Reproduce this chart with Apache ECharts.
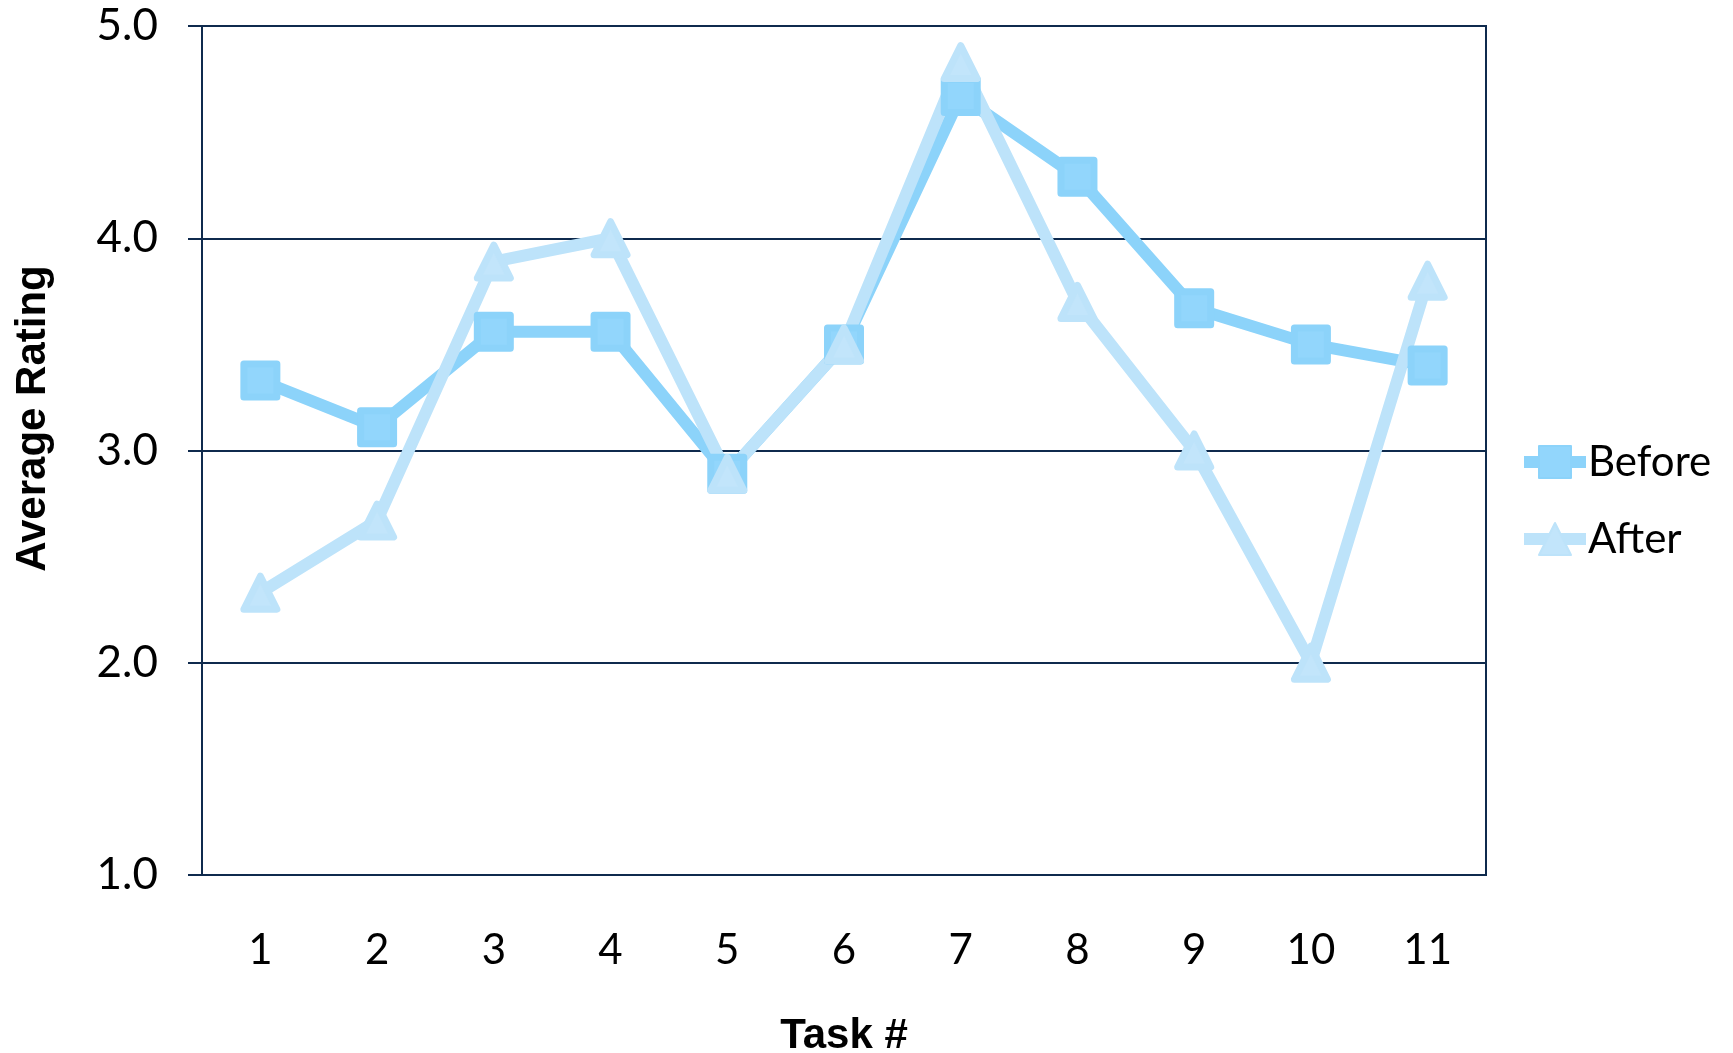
<!DOCTYPE html>
<html><head><meta charset="utf-8">
<script src="https://cdn.jsdelivr.net/npm/echarts@6/dist/echarts.min.js"></script>
<style>html,body{margin:0;padding:0;background:#fff}#c{width:1733px;height:1053px}</style>
</head><body><div id="c"></div>
<script>
const categories = ['1','2','3','4','5','6','7','8','9','10','11'];
const beforeValues = [3.33, 3.11, 3.56, 3.56, 2.89, 3.5, 4.67, 4.29, 3.67, 3.5, 3.4];
const afterValues = [2.33, 2.67, 3.89, 4.0, 2.89, 3.5, 4.83, 3.7, 3.0, 2.0, 3.8];
const yTicks = { min: 1, max: 5, interval: 1 };

const axisColor = '#0f2a4d';
const chart = echarts.init(document.getElementById('c'));
chart.setOption({
  animation: false,
  grid: { left: 202, top: 26, right: 247, bottom: 178, outerBoundsMode: 'none', containLabel: false, show: true, borderColor: axisColor, borderWidth: 2, backgroundColor: 'transparent' },
  legend: {
    orient: 'vertical', left: 1513, top: 436,
    itemWidth: 62, itemHeight: 40, itemGap: 35,
    textStyle: { fontFamily: 'Lato', fontSize: 42, color: '#000', padding: [0,0,0,-3] },
    data: [
      { name: 'Before', lineStyle: { width: 12 } },
      { name: 'After', lineStyle: { width: 12 } }
    ]
  },
  xAxis: {
    type: 'category', data: categories, boundaryGap: true,
    name: 'Task #', nameLocation: 'middle', nameGap: 140,
    nameTextStyle: { fontFamily: 'Liberation Sans', fontWeight: 'bold', fontSize: 42, color: '#000' },
    axisLine: { lineStyle: { color: axisColor, width: 2 } },
    axisTick: { show: false },
    axisLabel: { fontFamily: 'Lato', fontSize: 42, color: '#000', margin: 54 }
  },
  yAxis: {
    type: 'value', min: yTicks.min, max: yTicks.max, interval: yTicks.interval,
    name: 'Average Rating', nameLocation: 'middle', nameGap: 148,
    nameTextStyle: { fontFamily: 'Liberation Sans', fontWeight: 'bold', fontSize: 42, color: '#000', padding: [0, 0, 0, 64] },
    axisLine: { show: true, lineStyle: { color: axisColor, width: 2 } },
    axisTick: { show: true, inside: false, length: 14, lineStyle: { color: axisColor, width: 2 } },
    splitLine: { lineStyle: { color: axisColor, width: 2 } },
    axisLabel: { fontFamily: 'Lato', fontSize: 44, color: '#000', margin: 44, formatter: v => v.toFixed(1) }
  },
  series: [
    {
      name: 'Before', type: 'line', data: beforeValues,
      symbol: 'rect', symbolSize: 33,
      lineStyle: { color: '#8cd3fa', width: 12 },
      itemStyle: { color: '#92d6fc', borderColor: '#8cd3fa', borderWidth: 7, borderJoin: 'round' }
    },
    {
      name: 'After', type: 'line', data: afterValues,
      symbol: 'triangle', symbolSize: 33,
      lineStyle: { color: '#bde3fa', width: 12 },
      itemStyle: { color: '#c2e5fb', borderColor: '#bde3fa', borderWidth: 7, borderJoin: 'round' }
    }
  ]
});
</script></body></html>
